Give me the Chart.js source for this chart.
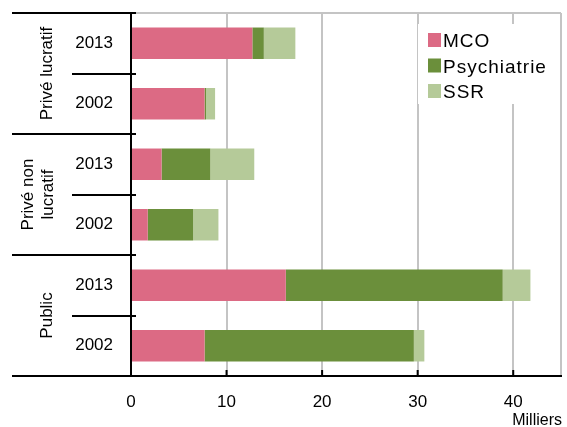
<!DOCTYPE html>
<html>
<head>
<meta charset="utf-8">
<script src="https://cdn.jsdelivr.net/npm/chart.js@4"></script>
<style>
  html, body { margin: 0; padding: 0; background: #fff; }
  #wrap { width: 567px; height: 427px; }
</style>
</head>
<body>
<div id="wrap"><canvas id="chart" width="567" height="427"></canvas></div>
<script>
// data (milliers)
const years = ['2013', '2002', '2013', '2002', '2013', '2002'];
const groups = [['Privé lucratif'], ['Privé non', 'lucratif'], ['Public']];
const mco = [12.7, 7.7, 3.2, 1.75, 16.2, 7.7];
const psychiatrie = [1.2, 0.15, 5.1, 4.75, 22.7, 21.9];
const ssr = [3.3, 0.95, 4.6, 2.65, 2.9, 1.1];
const xTicks = [0, 10, 20, 30, 40];
const xMax = 45;
const unit = 'Milliers';

const FONT = "'Liberation Sans', Arial, sans-serif";

// no extra room around the axes, the layout padding does it
const noPad = s => { s.paddingTop = 0; s.paddingBottom = 0; s.paddingLeft = 0; s.paddingRight = 0; };

// separators, group labels, x tick marks and labels, top line and legend
const decor = {
  id: 'decor',
  beforeDatasetsDraw(chart) {
    const {ctx, chartArea: a} = chart;
    ctx.save();
    ctx.strokeStyle = '#c4c4c4';
    ctx.lineWidth = 2;
    ctx.beginPath();
    ctx.moveTo(a.left, a.top);
    ctx.lineTo(a.right, a.top);
    ctx.stroke();
    ctx.restore();
  },
  afterDatasetsDraw(chart) {
    const {ctx, chartArea: a} = chart;
    // legend box
    ctx.save();
    ctx.fillStyle = '#fff';
    ctx.fillRect(418, 24, a.right - 419, 80);
    const cy = [40, 65.5, 91];
    ctx.font = '19px ' + FONT;
    ctx.letterSpacing = '1px';
    ctx.textBaseline = 'alphabetic';
    chart.data.datasets.forEach((ds, i) => {
      ctx.fillStyle = ds.backgroundColor;
      ctx.fillRect(428, cy[i] - 7, 13, 14);
      ctx.fillStyle = '#000';
      ctx.fillText(ds.label, 443, cy[i] + 7);
    });
    ctx.letterSpacing = '0px';
    ctx.restore();
  },
  afterDraw(chart) {
    const {ctx, chartArea: a} = chart;
    const ys = chart.scales.y;
    const x = chart.scales.x;
    ctx.save();
    ctx.strokeStyle = '#000';
    ctx.lineWidth = 2;
    // boundaries between rows
    const n = years.length;
    const bound = i => i === 0 ? a.top : i === n ? a.bottom
      : (ys.getPixelForTick(i - 1) + ys.getPixelForTick(i)) / 2;
    for (let i = 0; i <= n; i++) {
      const y = Math.round(bound(i));
      ctx.beginPath();
      ctx.moveTo(i % 2 === 0 ? 12 : 72, y);
      ctx.lineTo(a.left + 5, y);
      ctx.stroke();
    }
    // tick marks and labels on the x axis
    ctx.fillStyle = '#000';
    ctx.font = '17px ' + FONT;
    ctx.textAlign = 'center';
    ctx.textBaseline = 'alphabetic';
    xTicks.forEach(v => {
      const px = x.getPixelForValue(v);
      if (v !== 0) {
        ctx.beginPath();
        ctx.moveTo(px, a.bottom);
        ctx.lineTo(px, a.bottom - 6);
        ctx.stroke();
      }
      ctx.fillText(String(v), px, a.bottom + 31);
    });
    ctx.font = '16px ' + FONT;
    ctx.textAlign = 'right';
    ctx.fillText(unit, a.right + 1, a.bottom + 49);
    // group labels
    ctx.font = '17px ' + FONT;
    ctx.textAlign = 'center';
    ctx.textBaseline = 'middle';
    groups.forEach((lines, g) => {
      const yc = (bound(g * 2) + bound(g * 2 + 2)) / 2;
      const xc = lines.length === 1 ? 47 : 38;
      ctx.save();
      ctx.translate(xc, yc);
      ctx.rotate(-Math.PI / 2);
      lines.forEach((s, k) => {
        ctx.fillText(s, 0, (k - (lines.length - 1) / 2) * 20);
      });
      ctx.restore();
    });
    ctx.restore();
  }
};

new Chart(document.getElementById('chart'), {
  type: 'bar',
  data: {
    labels: years,
    datasets: [
      {label: 'MCO', data: mco, backgroundColor: '#dc6a84'},
      {label: 'Psychiatrie', data: psychiatrie, backgroundColor: '#6b8f3b'},
      {label: 'SSR', data: ssr, backgroundColor: '#b5ca99'}
    ]
  },
  options: {
    indexAxis: 'y',
    responsive: false,
    animation: false,
    layout: {padding: {top: 13, right: 6, left: 0, bottom: 0}},
    datasets: {bar: {categoryPercentage: 1, barPercentage: 0.52}},
    plugins: {legend: {display: false}, tooltip: {enabled: false}},
    scales: {
      x: {
        stacked: true,
        min: 0,
        max: xMax,
        afterBuildTicks: s => {
          s.ticks = xTicks.concat([xMax]).map(v => ({value: v}));
        },
        ticks: {display: false},
        grid: {
          drawTicks: false,
          lineWidth: 2,
          color: c => c.tick && c.tick.value === 0 ? 'rgba(0,0,0,0)' : '#c4c4c4'
        },
        border: {color: '#000', width: 2},
        afterFit: s => { s.height = 51; noPad(s); }
      },
      y: {
        stacked: true,
        ticks: {
          padding: 18,
          color: '#000',
          font: {family: FONT, size: 17}
        },
        grid: {display: false, drawTicks: false},
        border: {color: '#000', width: 2},
        afterFit: s => { s.width = 131; noPad(s); }
      }
    }
  },
  plugins: [decor]
});
</script>
</body>
</html>
